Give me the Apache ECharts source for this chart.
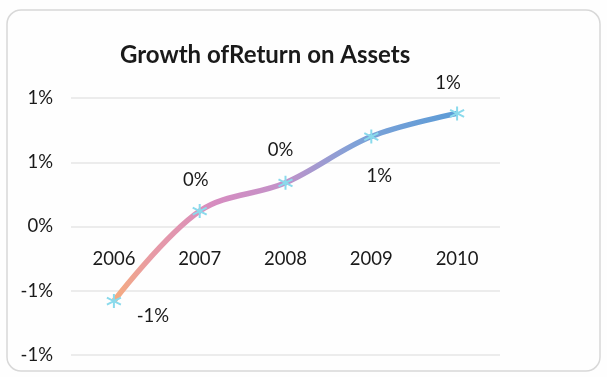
<!DOCTYPE html>
<html>
<head>
<meta charset="utf-8">
<script src="https://cdn.jsdelivr.net/npm/echarts@6/dist/echarts.min.js"></script>
<style>
  html, body { margin: 0; padding: 0; background: #ffffff; }
  #chart { width: 607px; height: 377px; }
</style>
</head>
<body>
<div id="chart"></div>
<script>
// Return on assets by year, in percent
const years = ['2006', '2007', '2008', '2009', '2010'];
const roaValues = [-0.58, 0.12, 0.34, 0.70, 0.88];
const yTicks = [-1, -0.5, 0, 0.5, 1];

// Excel-style rounding: halves go away from zero
function pct(v) {
  const r = Math.sign(v) * Math.round(Math.abs(v));
  return (r === 0 ? 0 : r) + '%';
}

// Label placement for each point, in the same order as the years
const labelLayout = [
  { position: 'bottom', distance: 4, offset: [39, -6] },
  { position: 'top', distance: 14, offset: [-4, 0] },
  { position: 'top', distance: 14, offset: [-5, -1] },
  { position: 'bottom', distance: 16, offset: [8, 6] },
  { position: 'top', distance: 14, offset: [-9, 1] }
];

const seriesData = roaValues.map((v, i) => ({ value: v, label: labelLayout[i] }));

// Plot area box
const chartHeight = 377;
const gridTop = 98;
const gridBottom = 22;
const plotHeight = chartHeight - gridTop - gridBottom;
const yMin = yTicks[0];
const yMax = yTicks[yTicks.length - 1];
// Category axis sits on the zero line
const xAxisOffset = -plotHeight * (0 - yMin) / (yMax - yMin);

// Six-armed star marker
const starPath = 'path://M0,-10L0,10M-8.66,-5L8.66,5M-8.66,5L8.66,-5';

const chart = echarts.init(document.getElementById('chart'));
chart.setOption({
  backgroundColor: '#fefefe',
  animation: false,
  title: {
    text: 'Growth ofReturn on Assets',
    left: 115,
    top: 38,
    textStyle: { fontFamily: 'Lato', fontWeight: 'bold', fontSize: 24, color: '#1a1a1a' }
  },
  graphic: [{
    type: 'rect',
    shape: { x: 7, y: 10, width: 593, height: 361, r: 14 },
    style: { fill: 'none', stroke: '#d8d8d8', lineWidth: 1.5 },
    z: -1
  }],
  grid: { left: 71, right: 107, top: gridTop, bottom: gridBottom, containLabel: false, outerBoundsMode: 'none' },
  xAxis: {
    type: 'category',
    data: years,
    offset: xAxisOffset,
    axisLine: { show: false, onZero: false },
    axisTick: { show: false },
    axisLabel: { margin: 23, fontFamily: 'Lato', fontSize: 18.5, color: '#1a1a1a' }
  },
  yAxis: {
    type: 'value',
    min: yMin,
    max: yMax,
    interval: 0.5,
    axisLine: { show: false },
    axisTick: { show: false },
    splitLine: { lineStyle: { color: '#e6e6e6', width: 1.5 } },
    axisLabel: {
      margin: 18,
      fontFamily: 'Lato',
      fontSize: 18.5,
      color: '#1a1a1a',
      formatter: v => pct(v)
    }
  },
  series: [{
    type: 'line',
    data: seriesData,
    smooth: 0.35,
    symbol: starPath,
    symbolSize: 14,
    itemStyle: { color: 'rgba(255,255,255,0)', borderColor: '#8adaec', borderWidth: 2 },
    lineStyle: {
      width: 5.5,
      color: {
        type: 'linear', x: 0, y: 0, x2: 1, y2: 0,
        colorStops: [
          { offset: 0, color: '#f6ad7c' },
          { offset: 0.12, color: '#e79aa6' },
          { offset: 0.3, color: '#d68cc0' },
          { offset: 0.5, color: '#c192c9' },
          { offset: 0.7, color: '#7fa2d8' },
          { offset: 1, color: '#5a9bd6' }
        ]
      }
    },
    label: {
      show: true,
      fontFamily: 'Lato',
      fontSize: 18.5,
      color: '#1a1a1a',
      formatter: p => pct(p.value)
    },
    z: 3
  }]
});
</script>
</body>
</html>
